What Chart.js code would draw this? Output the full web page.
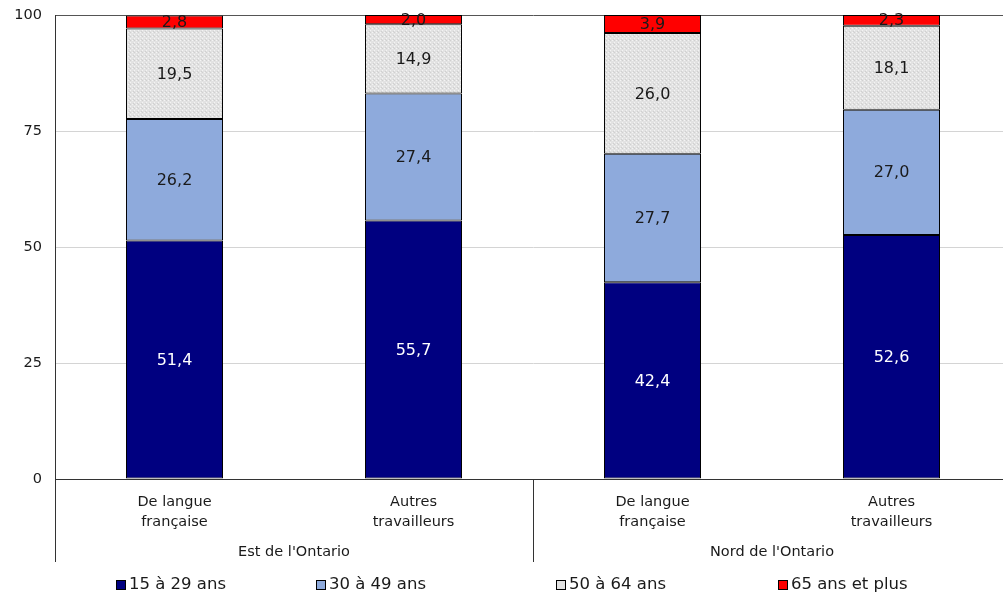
<!DOCTYPE html>
<html>
<head>
<meta charset="utf-8">
<script src="https://cdn.jsdelivr.net/npm/chart.js@4/dist/chart.umd.min.js"></script>
<style>
  html, body { margin: 0; padding: 0; background: #fff; overflow: hidden; }
  #wrap { width: 1012px; height: 594px; position: relative; }
</style>
</head>
<body>
<div id="wrap"><canvas id="chart"></canvas></div>
<script>
// Categories (two-level axis)
const categories = [['De langue', 'française'], ['Autres', 'travailleurs'], ['De langue', 'française'], ['Autres', 'travailleurs']];
const groups = ["Est de l'Ontario", "Nord de l'Ontario"];

// Series values (%)
const age15to29 = [51.4, 55.7, 42.4, 52.6];
const age30to49 = [26.2, 27.4, 27.7, 27.0];
const age50to64 = [19.5, 14.9, 26.0, 18.1];
const age65plus = [2.8, 2.0, 3.9, 2.3];

const seriesLabels = ['15 à 29 ans', '30 à 49 ans', '50 à 64 ans', '65 ans et plus'];
const yTicks = [0, 25, 50, 75, 100];

const FONT = 'DejaVu Sans';

// Dotted light-gray fill for the 50-64 series
function makeDotPattern() {
    const c = document.createElement('canvas');
    c.width = 4; c.height = 4;
    const g = c.getContext('2d');
    g.fillStyle = '#e2e2e2';
    g.fillRect(0, 0, 4, 4);
    g.fillStyle = '#f4f4f4';
    g.fillRect(0, 0, 1, 1);
    g.fillRect(2, 2, 1, 1);
    g.fillStyle = '#d0d0d0';
    g.fillRect(2, 0, 1, 1);
    g.fillRect(1, 3, 1, 1);
    return g.createPattern(c, 'repeat');
}

const fills = ['#000080', '#8eaadc', makeDotPattern(), '#ff0000'];
const legendFills = ['#000080', '#8eaadc', '#e2e2e2', '#ff0000'];
const labelColors = ['#ffffff', '#1a1a1a', '#1a1a1a', '#1a1a1a'];

// Values written in the middle of each segment
const segmentLabels = {
    id: 'segmentLabels',
    afterDatasetsDraw(chart) {
        const ctx = chart.ctx;
        ctx.save();
        ctx.font = '16px "' + FONT + '"';
        ctx.textAlign = 'center';
        ctx.textBaseline = 'middle';
        chart.data.datasets.forEach((ds, i) => {
            const meta = chart.getDatasetMeta(i);
            meta.data.forEach((bar, j) => {
                const v = ds.data[j];
                const yMid = (bar.y + bar.base) / 2;
                ctx.fillStyle = labelColors[i];
                ctx.fillText(v.toFixed(1).replace('.', ','), bar.x, yMid + 1);
            });
        });
        ctx.restore();
    }
};

// Group labels, separators and legend
const groupAxis = {
    id: 'groupAxis',
    afterDraw(chart) {
        const ctx = chart.ctx;
        const x = chart.scales.x;
        const area = chart.chartArea;
        const top = area.bottom;
        const bottom = area.bottom + 83;
        const mid = (x.getPixelForTick(1) + x.getPixelForTick(2)) / 2;
        ctx.save();
        ctx.strokeStyle = '#333';
        ctx.lineWidth = 1;
        [area.left, mid].forEach(px => {
            ctx.beginPath();
            ctx.moveTo(Math.round(px) + 0.5, top);
            ctx.lineTo(Math.round(px) + 0.5, bottom);
            ctx.stroke();
        });
        ctx.font = '14.5px "' + FONT + '"';
        ctx.fillStyle = '#1a1a1a';
        ctx.textAlign = 'center';
        ctx.textBaseline = 'middle';
        ctx.fillText(groups[0], (area.left + mid) / 2, top + 73);
        ctx.fillText(groups[1], (mid + area.right) / 2, top + 73);

        // legend
        const legendX = [116, 316, 556, 778];
        const ly = 585;
        ctx.font = '16.5px "' + FONT + '"';
        ctx.textAlign = 'left';
        seriesLabels.forEach((lab, i) => {
            const lx = legendX[i];
            ctx.fillStyle = legendFills[i];
            ctx.fillRect(lx, ly - 5, 10, 10);
            ctx.strokeStyle = '#000';
            ctx.strokeRect(lx + 0.5, ly - 4.5, 9, 9);
            ctx.fillStyle = '#1a1a1a';
            ctx.fillText(lab, lx + 13, ly);
        });
        ctx.restore();
    }
};

const ctx = document.getElementById('chart').getContext('2d');
new Chart(ctx, {
    type: 'bar',
    data: {
        labels: categories,
        datasets: seriesLabels.map((lab, i) => ({
            label: lab,
            data: [age15to29, age30to49, age50to64, age65plus][i],
            backgroundColor: fills[i],
            borderColor: '#000',
            borderWidth: 1,
            borderSkipped: false,
            categoryPercentage: 1,
            barPercentage: 0.406
        }))
    },
    options: {
        responsive: true,
        maintainAspectRatio: false,
        animation: false,
        layout: { padding: { top: 15, right: 1, left: 0, bottom: 32 } },
        plugins: {
            legend: { display: false },
            tooltip: { enabled: false }
        },
        scales: {
            x: {
                stacked: true,
                grid: { display: false, drawTicks: false },
                border: { color: '#333' },
                ticks: {
                    color: '#1a1a1a',
                    font: { family: FONT, size: 14.5, lineHeight: 1.38 },
                    padding: 13,
                    maxRotation: 0
                },
                afterFit(scale) { scale.height = 83; }
            },
            y: {
                stacked: true,
                min: 0,
                max: 100,
                afterBuildTicks(scale) { scale.ticks = yTicks.map(v => ({ value: v })); },
                grid: {
                    drawTicks: false,
                    color: ctx => (ctx.tick && ctx.tick.value === 100) ? '#555' : '#d4d4d4'
                },
                border: { color: '#333' },
                ticks: {
                    color: '#1a1a1a',
                    font: { family: FONT, size: 14.5 },
                    padding: 13
                },
                afterFit(scale) {
                    scale.width = 55;
                    scale.paddingTop = 0;
                    scale.paddingBottom = 0;
                }
            }
        }
    },
    plugins: [segmentLabels, groupAxis]
});
</script>
</body>
</html>
